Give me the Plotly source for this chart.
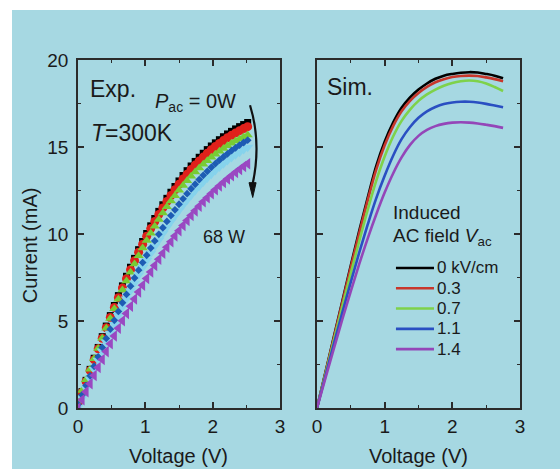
import plotly.graph_objects as go

# ---- measured I-V data (Exp.) : bias sweep in volts ----
v_exp = [0.00, 0.06, 0.12, 0.18, 0.24, 0.30, 0.36, 0.42, 0.48, 0.54,
         0.60, 0.66, 0.72, 0.78, 0.84, 0.90, 0.96, 1.02, 1.08, 1.14,
         1.20, 1.26, 1.32, 1.38, 1.44, 1.50, 1.56, 1.62, 1.68, 1.74,
         1.80, 1.86, 1.92, 1.98, 2.04, 2.10, 2.16, 2.22, 2.28, 2.34,
         2.40, 2.46, 2.52]

i_exp_0w = [0.30, 0.94, 1.59, 2.22, 2.86, 3.48, 4.10, 4.71, 5.31, 5.89,
            6.46, 7.02, 7.57, 8.09, 8.60, 9.10, 9.57, 10.03, 10.47, 10.89,
            11.30, 11.68, 12.05, 12.40, 12.73, 13.05, 13.36, 13.64, 13.91, 14.17,
            14.41, 14.64, 14.85, 15.06, 15.24, 15.42, 15.59, 15.75, 15.90, 16.04,
            16.17, 16.29, 16.41]
i_exp_p2 = [0.25, 0.89, 1.52, 2.15, 2.78, 3.40, 4.01, 4.61, 5.20, 5.78,
            6.34, 6.90, 7.43, 7.95, 8.46, 8.95, 9.41, 9.87, 10.31, 10.72,
            11.12, 11.50, 11.87, 12.21, 12.54, 12.86, 13.16, 13.44, 13.71, 13.96,
            14.20, 14.42, 14.64, 14.84, 15.03, 15.20, 15.37, 15.53, 15.67, 15.81,
            15.94, 16.06, 16.17]
i_exp_p3 = [0.40, 1.01, 1.62, 2.23, 2.83, 3.42, 4.01, 4.58, 5.15, 5.71,
            6.25, 6.78, 7.30, 7.80, 8.28, 8.75, 9.20, 9.63, 10.05, 10.45,
            10.84, 11.20, 11.56, 11.89, 12.20, 12.51, 12.79, 13.06, 13.32, 13.56,
            13.79, 14.01, 14.21, 14.41, 14.58, 14.75, 14.92, 15.07, 15.21, 15.34,
            15.46, 15.58, 15.69]
i_exp_p4 = [0.20, 0.75, 1.30, 1.85, 2.40, 2.94, 3.48, 4.00, 4.53, 5.04,
            5.55, 6.05, 6.53, 7.00, 7.47, 7.92, 8.36, 8.78, 9.19, 9.60,
            9.98, 10.36, 10.72, 11.06, 11.39, 11.71, 12.02, 12.32, 12.60, 12.86,
            13.13, 13.37, 13.60, 13.83, 14.04, 14.24, 14.43, 14.61, 14.79, 14.95,
            15.11, 15.26, 15.39]
i_exp_p5 = [0.05, 0.59, 1.14, 1.67, 2.21, 2.74, 3.27, 3.79, 4.30, 4.81,
            5.31, 5.80, 6.27, 6.74, 7.19, 7.64, 8.07, 8.48, 8.89, 9.29,
            9.66, 10.03, 10.39, 10.72, 11.05, 11.37, 11.67, 11.96, 12.23, 12.50,
            12.75, 12.99, 13.22, 13.44, 13.65, 13.85, 14.04, 14.22, 14.39, 14.55,
            14.70, 14.85, 14.98]
i_exp_68w = [0.00, 0.47, 0.94, 1.40, 1.87, 2.33, 2.79, 3.24, 3.69, 4.14,
             4.58, 5.01, 5.43, 5.85, 6.26, 6.67, 7.06, 7.44, 7.82, 8.19,
             8.55, 8.89, 9.24, 9.56, 9.88, 10.19, 10.49, 10.78, 11.06, 11.33,
             11.59, 11.85, 12.08, 12.32, 12.54, 12.76, 12.96, 13.16, 13.35, 13.53,
             13.71, 13.88, 14.04]

# ---- simulated I-V curves (Sim.) for induced AC field ----
v_sim = [0.000, 0.125, 0.250, 0.375, 0.500, 0.625, 0.750, 0.875, 1.000, 1.125,
         1.250, 1.375, 1.500, 1.625, 1.750, 1.875, 2.000, 2.125, 2.250, 2.375,
         2.500, 2.625, 2.750]
i_sim_00 = [0.00, 2.05, 4.10, 6.15, 8.20, 10.20, 12.10, 13.90, 15.30, 16.40,
            17.25, 17.85, 18.30, 18.65, 18.92, 19.10, 19.20, 19.27, 19.30, 19.28,
            19.20, 19.10, 18.95]
i_sim_03 = [0.00, 2.03, 4.05, 6.08, 8.10, 10.05, 11.95, 13.70, 15.10, 16.20,
            17.05, 17.65, 18.10, 18.45, 18.72, 18.90, 19.02, 19.08, 19.10, 19.08,
            19.00, 18.90, 18.78]
i_sim_07 = [0.00, 1.95, 3.90, 5.85, 7.75, 9.60, 11.40, 13.05, 14.45, 15.60,
            16.50, 17.15, 17.65, 18.02, 18.30, 18.52, 18.68, 18.78, 18.82, 18.78,
            18.65, 18.45, 18.22]
i_sim_11 = [0.00, 1.85, 3.70, 5.50, 7.25, 8.95, 10.55, 12.05, 13.35, 14.50,
            15.45, 16.15, 16.68, 17.05, 17.30, 17.47, 17.56, 17.60, 17.60, 17.56,
            17.48, 17.38, 17.28]
i_sim_14 = [0.00, 1.72, 3.42, 5.10, 6.72, 8.28, 9.75, 11.12, 12.38, 13.48,
            14.40, 15.12, 15.64, 15.98, 16.20, 16.33, 16.40, 16.42, 16.40, 16.35,
            16.28, 16.20, 16.10]

sim_labels = ["0 kV/cm", "0.3", "0.7", "1.1", "1.4"]
x_ticks = [0, 1, 2, 3]
y_ticks = [0, 5, 10, 15, 20]

BG = "#a6d8e2"
AX = "#2b2b2b"
TXT = "#1a1a1a"
FONT = "Liberation Sans, Arial, sans-serif"

fig = go.Figure()

exp_series = [
    (i_exp_0w, "#000000", "square", 7),
    (i_exp_p2, "#e0211b", "circle", 9),
    (i_exp_p3, "#78cc34", "triangle-up", 9),
    (i_exp_p5, "#86d3ec", "triangle-down", 10),
    (i_exp_p4, "#1d5cb4", "diamond", 6),
    (i_exp_68w, "#9a48c2", "triangle-left", 10),
]
for ys, col, sym, sz in exp_series:
    fig.add_trace(go.Scatter(
        x=v_exp, y=ys, mode="markers", showlegend=False, hoverinfo="skip",
        marker=dict(symbol=sym, size=sz, color=col, line=dict(width=0)),
        xaxis="x", yaxis="y"))

sim_colors = ["#000000", "#c8372c", "#7ed24a", "#2a4fc2", "#9446b8"]
sim_series = [i_sim_00, i_sim_03, i_sim_07, i_sim_11, i_sim_14]
for ys, col, name in zip(sim_series, sim_colors, sim_labels):
    fig.add_trace(go.Scatter(
        x=v_sim, y=ys, mode="lines", name=name, line_shape="spline",
        showlegend=False, hoverinfo="skip",
        line=dict(color=col, width=2.6), xaxis="x2", yaxis="y2"))

axis_common = dict(
    range=[0, 3], showline=True, linecolor=AX, linewidth=1.6, mirror="allticks",
    ticks="inside", ticklen=6, tickwidth=1.5, tickcolor=AX, showgrid=False,
    zeroline=False, tickfont=dict(size=19, color=TXT, family=FONT),
    minor=dict(ticks="inside", ticklen=3, tickwidth=1.3, tickcolor=AX, dtick=0.5),
)
yaxis_common = dict(axis_common, range=[0, 20], ticklabelstandoff=4)
yaxis_common["minor"] = dict(ticks="inside", ticklen=3, tickwidth=1.3, tickcolor=AX, dtick=2.5)

fig.update_layout(
    width=560, height=469,
    margin=dict(l=78, r=40, t=60, b=61),
    paper_bgcolor=BG, plot_bgcolor=BG,
    font=dict(family=FONT, color=TXT),
    showlegend=False,
    xaxis=dict(axis_common, domain=[0, 0.457], tickvals=x_ticks, anchor="y"),
    yaxis=dict(yaxis_common, domain=[0, 1], tickvals=y_ticks, anchor="x"),
    xaxis2=dict(axis_common, domain=[0.5407, 1], tickvals=x_ticks, anchor="y2"),
    yaxis2=dict(yaxis_common, domain=[0, 1], tickvals=y_ticks, anchor="x2",
                showticklabels=False),
)

# white page border around the tinted panel
fig.add_shape(type="rect", xref="paper", yref="paper", x0=-0.3, x1=1.2,
              y0=1.1437, y1=1.3, fillcolor="white", line_width=0, layer="below")
fig.add_shape(type="rect", xref="paper", yref="paper", x0=-0.3, x1=-0.1493,
              y0=-0.3, y1=1.3, fillcolor="white", line_width=0, layer="below")

# curved arrow showing increasing microwave power
fig.add_shape(type="path", xref="x", yref="y",
              path="M 2.555,17.4 Q 2.725,15.25 2.595,12.9",
              line=dict(color="#111111", width=2.2))
fig.add_shape(type="path", xref="x", yref="y",
              path="M 2.54,12.95 L 2.645,12.95 L 2.595,12.1 Z",
              fillcolor="#111111", line=dict(color="#111111", width=1))

texts = [
    dict(x=0.15, y=18.35, text="Exp.", size=23, xref="x", yref="y"),
    dict(x=0.17, y=15.8, text="<i>T</i>=300K", size=23, xref="x", yref="y"),
    dict(x=1.11, y=17.55, text="<i>P</i><sub>ac</sub> = 0W", size=20, xref="x", yref="y"),
    dict(x=1.83, y=9.85, text="68 W", size=18, xref="x", yref="y"),
    dict(x=0.12, y=18.45, text="Sim.", size=23, xref="x2", yref="y2"),
    dict(x=1.09, y=11.25, text="Induced", size=19, xref="x2", yref="y2"),
    dict(x=1.09, y=9.85, text="AC field <i>V</i><sub>ac</sub>", size=19,
         xref="x2", yref="y2"),
]
for t in texts:
    fig.add_annotation(x=t["x"], y=t["y"], xref=t["xref"], yref=t["yref"],
                       text=t["text"], showarrow=False, xanchor="left",
                       yanchor="middle", font=dict(size=t["size"], family=FONT,
                                                   color=TXT))

# key for the simulated curves
key_x0, key_x1, key_y0, key_step = 1.167, 1.729, 8.05, 1.167
for n, (col, name) in enumerate(zip(sim_colors, sim_labels)):
    ky = key_y0 - n * key_step
    fig.add_shape(type="line", xref="x2", yref="y2", x0=key_x0, x1=key_x1,
                  y0=ky, y1=ky, line=dict(color=col, width=2.6))
    fig.add_annotation(x=key_x1 + 0.02, y=ky, xref="x2", yref="y2", text=name,
                       showarrow=False, xanchor="left", yanchor="middle",
                       font=dict(size=17, family=FONT, color=TXT))

# axis titles
fig.add_annotation(x=-0.1086, y=0.468, xref="paper", yref="paper",
                   text="Current (mA)", textangle=-90, showarrow=False,
                   xanchor="center", yanchor="middle",
                   font=dict(size=20, family=FONT, color=TXT))
for cx in (0.2285, 0.7704):
    fig.add_annotation(x=cx, y=-0.138, xref="paper", yref="paper",
                       text="Voltage (V)", showarrow=False,
                       xanchor="center", yanchor="middle",
                       font=dict(size=20, family=FONT, color=TXT))

fig.write_html("out.html")
